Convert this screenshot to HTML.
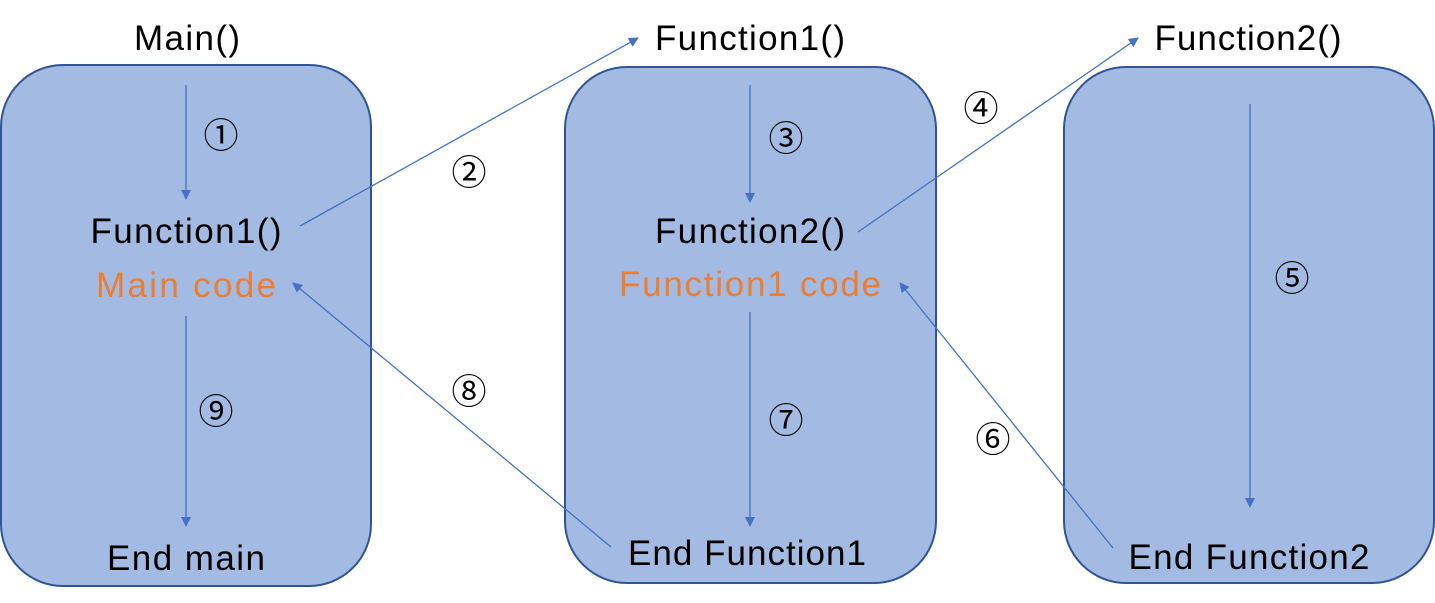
<!DOCTYPE html>
<html><head><meta charset="utf-8"><style>
html,body{margin:0;padding:0;background:#fff;}
svg{display:block}
text{font-family:"Liberation Sans","Noto Sans CJK KR",sans-serif;}
</style></head><body>
<svg width="1435" height="603" viewBox="0 0 1435 603" xmlns="http://www.w3.org/2000/svg">
<defs>
<marker id="a" markerWidth="10" markerHeight="10" refX="9" refY="5" orient="auto" markerUnits="userSpaceOnUse">
<path d="M0,0 L10,5 L0,10 z" fill="#4472C4"/></marker>
</defs>
<g fill="#A3BAE2" stroke="#2F5597" stroke-width="2">
<rect x="1" y="65" width="370" height="521" rx="62"/>
<rect x="565" y="67" width="371" height="516" rx="62"/>
<rect x="1064" y="67" width="370" height="516" rx="62"/>
</g>
<g stroke="#4472C4" stroke-width="1.3" fill="none" marker-end="url(#a)">
<line x1="186" y1="85" x2="186" y2="199"/>
<line x1="186" y1="316" x2="186" y2="526"/>
<line x1="300" y1="226" x2="638" y2="38"/>
<line x1="750" y1="85" x2="750" y2="202"/>
<line x1="750" y1="312" x2="750" y2="526"/>
<line x1="858" y1="232" x2="1138" y2="38"/>
<line x1="1250" y1="104" x2="1250" y2="507"/>
<line x1="1113" y1="548" x2="900" y2="283"/>
<line x1="611" y1="547" x2="293" y2="283"/>
</g>
<g font-size="35" text-anchor="middle" fill="#000" lengthAdjust="spacing">
<text x="187" y="50" textLength="106">Main()</text>
<text x="750" y="50" textLength="190">Function1()</text>
<text x="1248" y="50" textLength="187">Function2()</text>
<text x="186" y="243" textLength="191">Function1()</text>
<text x="750" y="243" textLength="190">Function2()</text>
<text x="186" y="570" textLength="158">End main</text>
<text x="747" y="565" textLength="238">End Function1</text>
<text x="1249" y="569" textLength="241">End Function2</text>
</g>
<g font-size="35" text-anchor="middle" fill="#ED7D31">
<text x="186" y="297" textLength="180" lengthAdjust="spacing">Main code</text>
<text x="750" y="296" textLength="262" lengthAdjust="spacing">Function1 code</text>
</g>
<g font-size="35" text-anchor="middle" fill="#000">
<text x="221" y="148">①</text>
<text x="469" y="185">②</text>
<text x="786" y="151">③</text>
<text x="981" y="121">④</text>
<text x="1292" y="291">⑤</text>
<text x="993" y="452">⑥</text>
<text x="786" y="433">⑦</text>
<text x="469" y="404">⑧</text>
<text x="216" y="424">⑨</text>
</g>
</svg>
</body></html>
